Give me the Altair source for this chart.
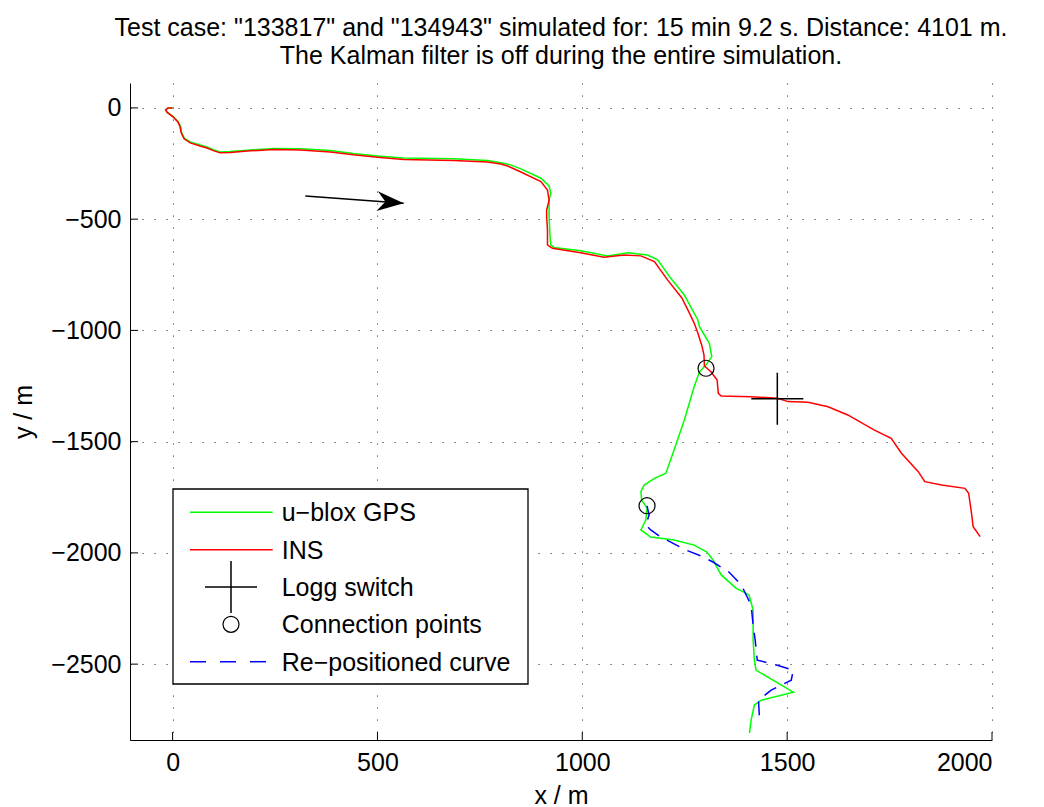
import altair as alt
import pandas as pd

FONT = "Liberation Sans"

TITLE = [
    'Test case: "133817" and "134943" simulated for: 15 min 9.2 s. Distance: 4101 m.',
    "The Kalman filter is off during the entire simulation.",
]

# INS trajectory (m)
ins_x = [0, -11, -17, -13, 1, 13, 18, 21, 28, 43, 67, 84, 101, 116, 141, 189, 246, 312,
         385, 441, 500, 564, 686, 769, 801, 818, 850, 899, 915, 919, 913, 913, 915, 915,
         927, 996, 1053, 1102, 1143, 1176, 1208, 1243, 1260, 1273, 1282, 1292, 1297, 1298,
         1314, 1329, 1332, 1339, 1412, 1477, 1502, 1551, 1600, 1648, 1713, 1754, 1779, 1820,
         1836, 1877, 1934, 1943, 1950, 1954, 1971]
ins_y = [0, 0, -9, -20, -40, -63, -85, -112, -139, -157, -171, -180, -193, -202, -200, -193,
         -187, -189, -198, -211, -222, -232, -236, -243, -252, -261, -288, -331, -369, -414,
         -459, -490, -549, -616, -631, -651, -671, -661, -665, -691, -773, -854, -917, -967,
         -1012, -1070, -1111, -1160, -1186, -1223, -1283, -1295, -1298, -1305, -1320, -1323,
         -1343, -1380, -1448, -1485, -1552, -1635, -1680, -1695, -1710, -1732, -1822, -1882,
         -1927]

# u-blox GPS trajectory (m)
gps_x = [0, -11, -17, -13, 1, 13, 20, 22, 29, 43, 67, 84, 101, 116, 141, 189, 246, 312, 385,
         441, 500, 564, 686, 769, 801, 825, 850, 899, 919, 923, 919, 919, 921, 923, 931, 996,
         1062, 1111, 1159, 1184, 1216, 1249, 1282, 1286, 1310, 1316, 1302, 1286, 1273, 1249,
         1224, 1204, 1176, 1151, 1143, 1145, 1158, 1155, 1143, 1167, 1224, 1273, 1304, 1319,
         1339, 1375, 1407, 1417, 1417, 1420, 1424, 1486, 1515, 1437, 1420, 1412, 1408]
gps_y = [0, 0, -9, -20, -38, -61, -85, -112, -137, -153, -166, -175, -189, -198, -196, -189,
         -182, -183, -191, -205, -216, -225, -229, -236, -246, -256, -274, -316, -351, -384,
         -414, -489, -571, -616, -627, -642, -665, -651, -661, -683, -766, -841, -953, -983,
         -1058, -1118, -1155, -1186, -1253, -1403, -1538, -1642, -1665, -1695, -1725, -1763,
         -1798, -1852, -1897, -1929, -1942, -1965, -1996, -2032, -2099, -2158, -2189, -2257,
         -2392, -2482, -2527, -2594, -2626, -2662, -2684, -2752, -2810]

# Re-positioned INS curve (m)
repos_x = [1158, 1163, 1155, 1167, 1192, 1253, 1290, 1319, 1358, 1388, 1412, 1417, 1422, 1427,
           1474, 1515, 1510, 1461, 1430, 1432, 1442]
repos_y = [-1789, -1830, -1875, -1897, -1929, -1987, -2014, -2041, -2086, -2144, -2234, -2324,
           -2392, -2482, -2504, -2527, -2572, -2617, -2662, -2729, -2752]

conn_x = [1302, 1158]
conn_y = [-1170, -1788]
switch_x = [1476]
switch_y = [-1307]

# direction-of-travel arrow (start, tip)
arrow_x = [324, 564]
arrow_y = [-396, -428]

x_ticks = [0, 500, 1000, 1500, 2000]
y_ticks = [-2500, -2000, -1500, -1000, -500, 0]
X_DOMAIN = [-104, 2000]
Y_DOMAIN = [-2841, 112]

legend_labels = ["u\u2212blox GPS", "INS", "Logg switch", "Connection points",
                 "Re\u2212positioned curve"]

W, H = 862, 657

CROSS = "M-1,0H1M0,-1V1"
ARROW_HEAD = "M0,0L-1,-0.376L-0.69,0L-1,0.376Z"


def path_df(xs, ys):
    return pd.DataFrame({"x": xs, "y": ys, "i": range(len(xs))})


xs = alt.Scale(domain=X_DOMAIN, nice=False, zero=False)
ys = alt.Scale(domain=Y_DOMAIN, nice=False, zero=False)

grid_style = dict(grid=True, gridDash=[1.2, 10.8], gridColor="#000000", gridOpacity=0.75,
                  gridWidth=1, ticks=False, domainColor="#000000", domainWidth=1,
                  labelFont=FONT, labelFontSize=25, labelColor="#000000",
                  titleFont=FONT, titleFontSize=25, titleFontWeight="normal",
                  titleColor="#000000")

x_axis = alt.Axis(values=x_ticks, format="d", title="x / m", labelPadding=10,
                  titlePadding=8, **grid_style)
y_axis = alt.Axis(values=y_ticks, format="d", title="y / m", labelPadding=9,
                  titlePadding=14, **grid_style)


def X(field):
    return alt.X(field, scale=xs, axis=x_axis)


def Y(field):
    return alt.Y(field, scale=ys, axis=y_axis)


def line_layer(xs_, ys_, color, **kw):
    return alt.Chart(path_df(xs_, ys_)).mark_line(color=color, strokeWidth=1.5, **kw).encode(
        x=X("x:Q"), y=Y("y:Q"), order="i:Q"
    )


gps = line_layer(gps_x, gps_y, "#00ff00")
ins = line_layer(ins_x, ins_y, "#ff0000")
repos = line_layer(repos_x, repos_y, "#0000ff", strokeDash=[14, 9])

conn = alt.Chart(pd.DataFrame({"x": conn_x, "y": conn_y})).mark_point(
    shape="circle", size=256, filled=False, color="#000000", strokeWidth=1.2, opacity=1
).encode(x=X("x:Q"), y=Y("y:Q"))

switch = alt.Chart(pd.DataFrame({"x": switch_x, "y": switch_y})).mark_point(
    shape=CROSS, size=2704, filled=False, color="#000000", strokeWidth=1.5, opacity=1
).encode(x=X("x:Q"), y=Y("y:Q"))

arrow_line = line_layer(arrow_x, arrow_y, "#000000")
arrow_head = alt.Chart(pd.DataFrame({"x": arrow_x[-1:], "y": arrow_y[-1:]})).mark_point(
    shape=ARROW_HEAD, size=2830, filled=True, color="#000000", angle=4.3, opacity=1
).encode(x=X("x:Q"), y=Y("y:Q"))

# inward-pointing tick marks on both axes
x_tick_marks = alt.Chart(pd.DataFrame({"x": x_ticks})).mark_rule(
    color="#000000", strokeWidth=1
).encode(x=X("x:Q"), y=alt.value(H), y2=alt.value(H - 8))
y_tick_marks = alt.Chart(pd.DataFrame({"y": y_ticks})).mark_rule(
    color="#000000", strokeWidth=1
).encode(y=Y("y:Q"), x=alt.value(0), x2=alt.value(8))

# legend box
one = pd.DataFrame({"k": [0]})
LX0, LX1, LY0, LY1 = 43, 398, 406, 601
SW0, SW1, SWC = 60, 142.7, 101
TX = 151.7
ROW0, ROWH = 429.3, 37.35

legend_layers = [
    alt.Chart(one).mark_rect(fill="#ffffff", stroke="#000000", strokeWidth=1.3).encode(
        x=alt.value(LX0), x2=alt.value(LX1), y=alt.value(LY0), y2=alt.value(LY1)
    )
]
swatch_colors = ["#00ff00", "#ff0000"]
for i, col in enumerate(swatch_colors):
    legend_layers.append(
        alt.Chart(one).mark_rule(color=col, strokeWidth=1.5).encode(
            x=alt.value(SW0), x2=alt.value(SW1), y=alt.value(ROW0 + i * ROWH)
        )
    )
legend_layers.append(
    alt.Chart(one).mark_point(shape=CROSS, size=2704, filled=False, color="#000000",
                              strokeWidth=1.5, opacity=1).encode(
        x=alt.value(SWC), y=alt.value(ROW0 + 2 * ROWH)
    )
)
legend_layers.append(
    alt.Chart(one).mark_point(shape="circle", size=256, filled=False, color="#000000",
                              strokeWidth=1.2, opacity=1).encode(
        x=alt.value(SWC), y=alt.value(ROW0 + 3 * ROWH)
    )
)
legend_layers.append(
    alt.Chart(one).mark_rule(color="#0000ff", strokeWidth=1.5, strokeDash=[16, 14]).encode(
        x=alt.value(SW0), x2=alt.value(SW1 - 4), y=alt.value(ROW0 + 4 * ROWH)
    )
)
for i, lab in enumerate(legend_labels):
    legend_layers.append(
        alt.Chart(pd.DataFrame({"label": [lab]})).mark_text(
            align="left", baseline="middle", font=FONT, fontSize=25, color="#000000"
        ).encode(x=alt.value(TX), y=alt.value(ROW0 + i * ROWH + 1), text="label:N")
    )

chart = alt.layer(
    gps, ins, repos, conn, switch, arrow_line, arrow_head, x_tick_marks, y_tick_marks,
    *legend_layers
).properties(
    width=W,
    height=H,
    title=alt.TitleParams(text=TITLE, font=FONT, fontSize=25, fontWeight="normal",
                          color="#000000", anchor="middle", lineHeight=28, offset=14),
    autosize=alt.AutoSizeParams(type="none"),
    padding={"left": 130, "top": 83, "right": 52, "bottom": 67},
).configure(font=FONT, background="#ffffff").configure_view(strokeWidth=0)

chart.save("out.html", embed_options={"renderer": "svg", "actions": False})
